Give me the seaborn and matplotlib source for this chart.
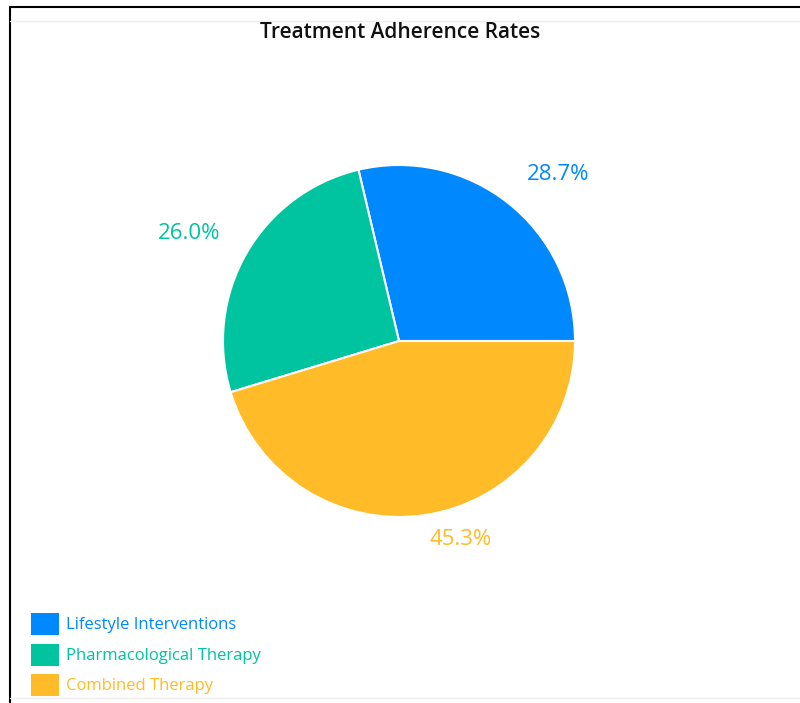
import numpy as np
import matplotlib
matplotlib.use("Agg")
import matplotlib.pyplot as plt
from matplotlib.patches import Rectangle
from matplotlib.lines import Line2D
import seaborn as sns

categories = ["Lifestyle Interventions", "Pharmacological Therapy", "Combined Therapy"]
values = [28.7, 26.0, 45.3]
colors = ["#0088FE", "#00C49F", "#FFBB28"]
title = "Treatment Adherence Rates"

sns.set_theme(style="white")
plt.rcParams['font.family'] = ['Open Sans', 'DejaVu Sans']
palette = sns.color_palette(colors)

W, H = 800, 703
fig = plt.figure(figsize=(W / 100, H / 100), dpi=100)
fig.patch.set_facecolor("white")

# frame lines
fig.add_artist(Line2D([10 / W, 1], [1 - 7 / H, 1 - 7 / H], color="black", lw=1.5, transform=fig.transFigure))
fig.add_artist(Line2D([10 / W, 10 / W], [0, 1 - 7 / H], color="black", lw=1.5, transform=fig.transFigure))
fig.add_artist(Line2D([10 / W, 1], [1 - 21 / H, 1 - 21 / H], color="#eeeeee", lw=1, transform=fig.transFigure))
fig.add_artist(Line2D([10 / W, 1], [1 - 698 / H, 1 - 698 / H], color="#eeeeee", lw=1, transform=fig.transFigure))

cx, cy, r = 399, 341, 176
ax = fig.add_axes([(cx - r) / W, 1 - (cy + r) / H, 2 * r / W, 2 * r / H])
wedges, _ = ax.pie(values, colors=palette, startangle=0, counterclock=True,
                   radius=1, wedgeprops=dict(edgecolor="white", linewidth=1.5))
ax.set_xlim(-1, 1)
ax.set_ylim(-1, 1)
ax.set_aspect("equal")
ax.axis("off")

total = sum(values)
for w, v, c in zip(wedges, values, colors):
    mid = np.deg2rad((w.theta1 + w.theta2) / 2)
    rr = 1.17
    x, y = rr * np.cos(mid), rr * np.sin(mid) + 0.03
    ha = "left" if np.cos(mid) >= 0 else "right"
    ax.text(x, y, f"{v / total * 100:.1f}%", ha=ha, va="center", color=c,
            fontsize=16, clip_on=False)

fig.text(400 / W, 1 - 32 / H, title, ha="center", va="center", fontsize=15,
         fontweight="semibold", color="#111111")

# legend
for i, (cat, c) in enumerate(zip(categories, colors)):
    yc = 624 + i * 30.5
    fig.add_artist(Rectangle((31 / W, 1 - (yc + 11) / H), 28 / W, 22 / H,
                             facecolor=c, edgecolor="none", transform=fig.transFigure))
    fig.text(66 / W, 1 - (yc + 1) / H, cat, ha="left", va="center", fontsize=12, color=c)

fig.savefig("out.png", dpi=100, facecolor="white")
